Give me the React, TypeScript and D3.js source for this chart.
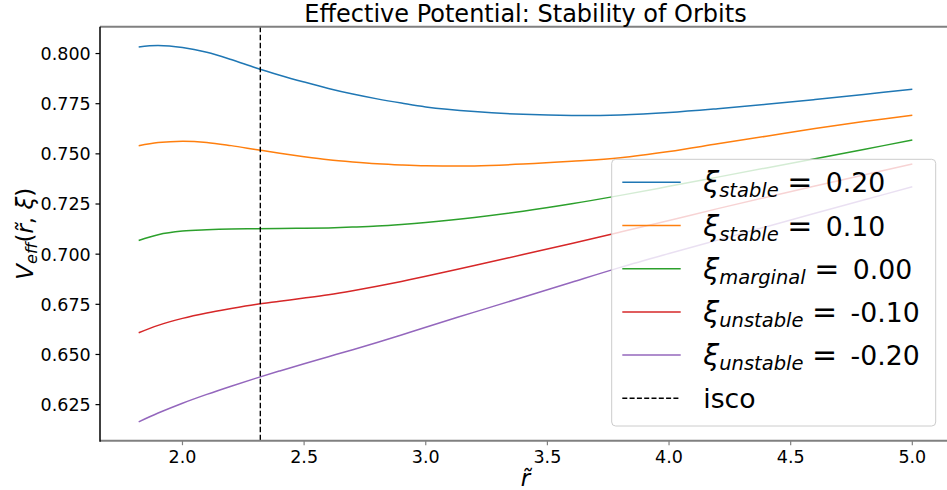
import React from "react";
import * as d3 from "d3";

const R_VALUES = [1.82, 1.9, 2.0, 2.1, 2.2, 2.3, 2.4, 2.5, 2.6, 2.7, 2.8, 2.9, 3.0, 3.2, 3.4, 3.6, 3.8, 4.0, 4.2, 4.4, 4.6, 4.8, 5.0];

const XI_P020 = [0.8033, 0.8040, 0.8030, 0.8006, 0.7970, 0.7929, 0.7892, 0.7858, 0.7826, 0.7798, 0.7774, 0.7753, 0.7734, 0.7711, 0.7697, 0.7691, 0.7694, 0.7706, 0.7725, 0.7747, 0.7771, 0.7796, 0.7822];
const XI_P010 = [0.7540, 0.7556, 0.7563, 0.7557, 0.7541, 0.7522, 0.7503, 0.7486, 0.7471, 0.7460, 0.7451, 0.7445, 0.7441, 0.7440, 0.7449, 0.7463, 0.7481, 0.7512, 0.7550, 0.7588, 0.7626, 0.7661, 0.7693];
const XI_000 = [0.7068, 0.7097, 0.7115, 0.7122, 0.7126, 0.7127, 0.7128, 0.7129, 0.7131, 0.7135, 0.7140, 0.7148, 0.7158, 0.7183, 0.7214, 0.7251, 0.7293, 0.7338, 0.7384, 0.7430, 0.7476, 0.7522, 0.7569];
const XI_M010 = [0.6608, 0.6645, 0.6680, 0.6707, 0.6729, 0.6749, 0.6765, 0.6781, 0.6798, 0.6818, 0.6840, 0.6864, 0.6890, 0.6943, 0.6998, 0.7053, 0.7110, 0.7168, 0.7227, 0.7284, 0.7340, 0.7395, 0.7449];
const XI_M020 = [0.6164, 0.6208, 0.6257, 0.6301, 0.6342, 0.6381, 0.6418, 0.6454, 0.6489, 0.6524, 0.6560, 0.6597, 0.6636, 0.6711, 0.6785, 0.6860, 0.6934, 0.7003, 0.7070, 0.7137, 0.7204, 0.7270, 0.7336];

const SERIES_VALUES = [XI_P020, XI_P010, XI_000, XI_M010, XI_M020];
const SERIES_SUBS = ["stable", "stable", "marginal", "unstable", "unstable"];
const SERIES_XI = ["0.20", "0.10", "0.00", "-0.10", "-0.20"];
const SERIES_COLORS = ["#1f77b4", "#ff7f0e", "#2ca02c", "#d62728", "#9467bd"];

const ISCO_R = 2.32;

const X_TICKS = [2.0, 2.5, 3.0, 3.5, 4.0, 4.5, 5.0];
const Y_TICKS = [0.625, 0.65, 0.675, 0.7, 0.725, 0.75, 0.775, 0.8];

const TITLE = "Effective Potential: Stability of Orbits";

const W = 947;
const H = 490;
const AX = { left: 100, right: 951, top: 26.7, bottom: 440.7 };
const FONT = "'DejaVu Sans', sans-serif";
const NB = "\u00a0";

export default function App() {
  const xMin = d3.min(R_VALUES)!;
  const xMax = d3.max(R_VALUES)!;
  const allY = SERIES_VALUES.flat();
  const yMin = d3.min(allY)!;
  const yMax = d3.max(allY)!;
  const xm = (xMax - xMin) * 0.05;
  const ym = (yMax - yMin) * 0.05;

  const x = d3.scaleLinear().domain([xMin - xm, xMax + xm]).range([AX.left, AX.right]);
  const y = d3.scaleLinear().domain([yMin - ym, yMax + ym]).range([AX.bottom, AX.top]);

  const line = d3
    .line<[number, number]>()
    .x((d) => x(d[0]))
    .y((d) => y(d[1]))
    .curve(d3.curveCatmullRom.alpha(0.5));

  const legend = { left: 611.7, top: 159.3, right: 935.7, bottom: 426 };
  const rowY = (i: number) => 182.3 + i * 43.2;

  return (
    <svg
      width={W}
      height={H}
      style={{ position: "absolute", left: 0, top: 0, background: "#fff" }}
      fontFamily={FONT}
    >
      <defs>
        <clipPath id="axclip">
          <rect x={AX.left} y={AX.top} width={AX.right - AX.left} height={AX.bottom - AX.top} />
        </clipPath>
      </defs>
      <rect x={0} y={0} width={W} height={H} fill="#fff" />

      {/* data lines */}
      <g clipPath="url(#axclip)">
        {SERIES_VALUES.map((vals, i) => (
          <path
            key={i}
            d={line(R_VALUES.map((r, j) => [r, vals[j]] as [number, number])) || ""}
            fill="none"
            stroke={SERIES_COLORS[i]}
            strokeWidth={1.5}
          />
        ))}
        <line
          x1={x(ISCO_R)}
          x2={x(ISCO_R)}
          y1={AX.top}
          y2={AX.bottom}
          stroke="#000"
          strokeWidth={1.4}
          strokeDasharray="5.5,2.5"
        />
      </g>

      {/* spines */}
      <line x1={AX.left} x2={W} y1={AX.top} y2={AX.top} stroke="#808080" strokeWidth={2} />
      <line x1={AX.left} x2={W} y1={AX.bottom} y2={AX.bottom} stroke="#808080" strokeWidth={2} />
      <line x1={AX.left} x2={AX.left} y1={AX.top} y2={AX.bottom + 1} stroke="#000" strokeWidth={1.5} />

      {/* x ticks */}
      {X_TICKS.map((t) => (
        <g key={"x" + t}>
          <line x1={x(t)} x2={x(t)} y1={AX.bottom} y2={AX.bottom + 4.5} stroke="#808080" strokeWidth={1.2} />
          <text x={x(t)} y={462.7} textAnchor="middle" fontSize={17.5} fill="#000">
            {t.toFixed(1)}
          </text>
        </g>
      ))}

      {/* y ticks */}
      {Y_TICKS.map((t) => (
        <g key={"y" + t}>
          <line x1={AX.left - 4.5} x2={AX.left} y1={y(t)} y2={y(t)} stroke="#000" strokeWidth={1.2} />
          <text x={90.7} y={y(t) + 6.4} textAnchor="end" fontSize={17.5} fill="#000">
            {t.toFixed(3)}
          </text>
        </g>
      ))}

      {/* title */}
      <text x={(AX.left + AX.right) / 2} y={22} textAnchor="middle" fontSize={24} fill="#000">
        {TITLE}
      </text>

      {/* x label */}
      <text x={(AX.left + AX.right) / 2} y={486} textAnchor="middle" fontSize={23} fontStyle="italic" fill="#000">
        {"r\u0303"}
      </text>

      {/* y label */}
      <text
        transform={`translate(32.5, ${(AX.top + AX.bottom) / 2}) rotate(-90)`}
        textAnchor="middle"
        fontSize={23}
        fill="#000"
      >
        <tspan fontStyle="italic">V</tspan>
        <tspan fontStyle="italic" fontSize={16} dy={4}>eff</tspan>
        <tspan dy={-4}>(</tspan>
        <tspan fontStyle="italic">{"r\u0303"}</tspan>
        <tspan>{"," + NB}</tspan>
        <tspan fontStyle="italic">ξ</tspan>
        <tspan>)</tspan>
      </text>

      {/* legend */}
      <rect
        x={legend.left}
        y={legend.top}
        width={legend.right - legend.left}
        height={legend.bottom - legend.top}
        rx={4}
        ry={4}
        fill="#fff"
        fillOpacity={0.8}
        stroke="#cccccc"
        strokeWidth={1}
      />
      {SERIES_COLORS.map((c, i) => (
        <g key={"leg" + i}>
          <line x1={622.3} x2={680.7} y1={rowY(i)} y2={rowY(i)} stroke={c} strokeWidth={1.5} />
          <text x={703.3} y={rowY(i) + 10} fontSize={26.7} fill="#000">
            <tspan fontStyle="italic" fontSize={28.5}>ξ</tspan>
            <tspan fontStyle="italic" fontSize={19.5} dy={5}>
              {SERIES_SUBS[i]}
            </tspan>
            <tspan dy={-5}>{NB}</tspan>
            <tspan fontSize={30}>=</tspan>
            <tspan dx={5}>{NB + SERIES_XI[i]}</tspan>
          </text>
        </g>
      ))}
      <line x1={622.3} x2={680.7} y1={rowY(5)} y2={rowY(5)} stroke="#000" strokeWidth={1.4} strokeDasharray="5,2.3" />
      <text x={703.3} y={rowY(5) + 10} fontSize={26.7} fill="#000">
        isco
      </text>
    </svg>
  );
}
